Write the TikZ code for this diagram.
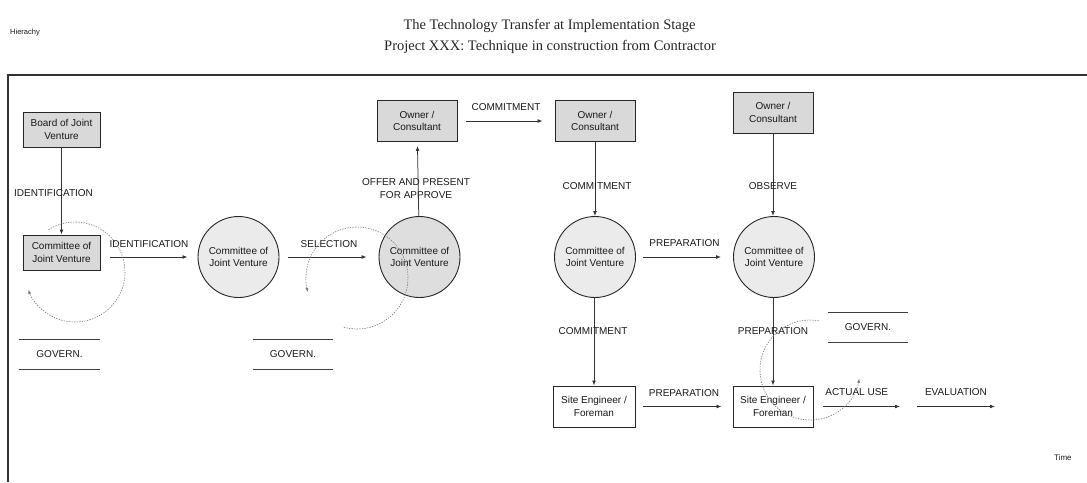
\documentclass[tikz,border=0pt]{standalone}
\usepackage{fontspec}
\setmainfont{Liberation Serif}
\newfontfamily\arialfont{Liberation Sans}
\usetikzlibrary{arrows.meta,calc}
\begin{document}
\begin{tikzpicture}[x=1pt,y=-1pt,
  ink/.style={draw=black!85,line width=0.9pt},
  sans/.style={font=\arialfont\fontsize{10}{12.5}\selectfont,text=black!90},
  actorbox/.style={ink,sans,rectangle,fill=gray!30,minimum width=80pt,minimum height=41pt,inner sep=1pt,align=center},
  sitebox/.style={actorbox,fill=white},
  jvcircle/.style={ink,sans,circle,fill=gray!16,minimum size=81pt,inner sep=0pt,align=center},
  flow/.style={draw=black!80,line width=0.75pt,-{Latex[length=5pt,width=3.8pt]}},
  lbl/.style={sans,inner sep=0pt},
  govern/.style={sans,inner sep=0pt,minimum height=29pt},
  loop/.style={draw=black!55,line width=0.6pt,dash pattern=on 1.3pt off 1.3pt,-{Latex[length=4pt,width=3pt]}}]

\useasboundingbox (0,0) rectangle (1087,482);

% headings
\node[font=\fontsize{14.5}{16}\selectfont,text=black!85] (title) at (549.5,26) {The Technology Transfer at Implementation Stage};
\node[font=\fontsize{14.5}{16}\selectfont,text=black!85] (subtitle) at (550,47) {Project XXX: Technique in construction from Contractor};
\node[sans,font=\arialfont\fontsize{7.5}{9}\selectfont,anchor=west,inner sep=0pt] (hier) at (10,33) {Hierachy};
\node[sans,font=\arialfont\fontsize{8}{9}\selectfont,anchor=west,inner sep=0pt] (time) at (1054,458) {Time};

% frame
\coordinate (fr0) at (8,75);
\coordinate (fr1) at (1087,75);
\coordinate (fr2) at (8,482);
\draw[draw=black!80,line width=1.1pt] (fr1) -- (fr0) -- (fr2);

% actors
\node[actorbox,minimum width=77pt,minimum height=35pt] (board) at (61.5,129.5) {Board of Joint\\Venture};
\node[actorbox,minimum width=77pt,minimum height=35pt] (cbox) at (61.5,252.5) {Committee of\\Joint Venture};
\node[jvcircle] (c1) at (238.5,257) {Committee of\\Joint Venture};
\node[jvcircle,fill=gray!26] (c2) at (419.5,257) {Committee of\\Joint Venture};
\node[actorbox] (own1) at (417,121) {Owner /\\Consultant};
\node[actorbox] (own2) at (595,121) {Owner /\\Consultant};
\node[actorbox] (own3) at (773,112.5) {Owner /\\Consultant};
\node[jvcircle] (c3) at (595,257) {Committee of\\Joint Venture};
\node[jvcircle] (c4) at (774,257) {Committee of\\Joint Venture};
\node[sitebox,minimum width=82pt] (site1) at (594,406.5) {Site Engineer /\\Foreman};
\node[sitebox] (site2) at (773,406.5) {Site Engineer /\\Foreman};

% govern markers
\node[govern,minimum width=81pt] (gov1) at (59.5,354.5) {GOVERN.};
\node[govern,minimum width=80pt] (gov2) at (293,354.5) {GOVERN.};
\node[govern,minimum width=80pt] (gov3) at (868,327.5) {GOVERN.};
\foreach \g in {gov1,gov2,gov3}{
  \draw[draw=black!75,line width=0.9pt] (\g.north west) -- (\g.north east);
  \draw[draw=black!75,line width=0.9pt] (\g.south west) -- (\g.south east);
}

% vertical flows
\draw[flow] (board) -- (cbox);
\node[lbl,anchor=west] (l1) at (14,193) {IDENTIFICATION};
\draw[flow,shorten >=4pt] (c2) -- (own1);
\node[lbl,align=center,font=\arialfont\fontsize{10}{12.5}\selectfont] (l4) at (416,188.5) {OFFER AND PRESENT\\FOR APPROVE};
\draw[flow] (own2) -- (c3);
\node[lbl] (l6) at (597,186) {COMMITMENT};
\draw[flow] (own3.south) -- (own3.south |- c4.north);
\node[lbl] (l7) at (773,186) {OBSERVE};
\draw[flow] (c3.south -| site1) -- (site1);
\node[lbl] (l8) at (593,331.5) {COMMITMENT};
\draw[flow] (c4.south -| site2) -- (site2);
\node[lbl] (l9) at (773,331.5) {PREPARATION};

% horizontal flows
\draw[flow,shorten <=10pt,shorten >=10pt] (cbox.east |- c1.west) -- node[lbl,anchor=base,yshift=9.5pt]{IDENTIFICATION} (c1.west);
\draw[flow,shorten <=9pt,shorten >=12pt] (c1) -- node[lbl,anchor=base,yshift=10pt]{SELECTION} (c2);
\draw[flow,shorten <=9pt,shorten >=12pt] (own1) -- node[lbl,anchor=base,yshift=11pt]{COMMITMENT} (own2.west |- own1);
\draw[flow,shorten <=7pt,shorten >=12pt] (c3) -- node[lbl,anchor=base,yshift=11pt]{PREPARATION} (c4);
\draw[flow,shorten <=8pt,shorten >=11pt] (site1) -- node[lbl,anchor=base,yshift=10.5pt]{PREPARATION} (site2);
\coordinate (useend) at (900,406.5);
\coordinate (evstart) at (917,406.5);
\coordinate (evend) at (995,406.5);
\draw[flow,shorten <=10pt] (site2) -- node[lbl,anchor=base,yshift=11pt]{ACTUAL USE} (useend);
\draw[flow] (evstart) -- node[lbl,anchor=base,yshift=11pt]{EVALUATION} (evend);

% dashed feedback loops
\coordinate (o1) at (75,272);
\coordinate (o2) at (357,278);
\coordinate (o3) at (810,370);
\draw[loop] (o1) ++(-122:50) arc[start angle=-122,end angle=159,radius=50];
\draw[loop] (o2) ++(105:51) arc[start angle=105,end angle=-196,radius=51];
\draw[loop] (o3) ++(-80:50) arc[start angle=-80,end angle=-350,radius=50];
\end{tikzpicture}
\end{document}
